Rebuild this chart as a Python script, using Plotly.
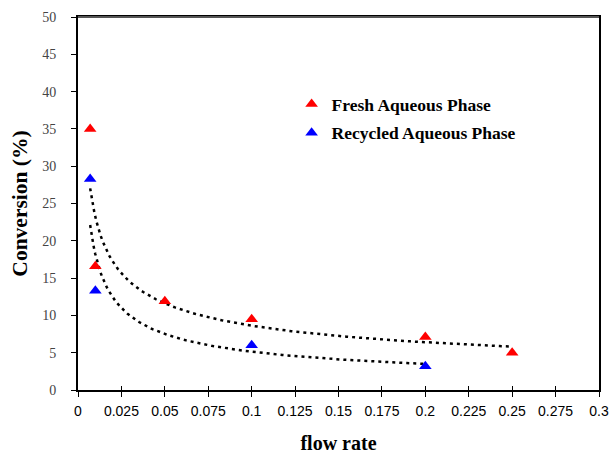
import numpy as np
import plotly.graph_objects as go

fresh_x = [0.007, 0.01, 0.05, 0.1, 0.2, 0.25]
fresh_y = [35.0, 16.6, 11.9, 9.5, 7.1, 5.0]
recycled_x = [0.007, 0.01, 0.1, 0.2]
recycled_y = [28.3, 13.3, 6.0, 3.2]

x_ticks = [0, 0.025, 0.05, 0.075, 0.1, 0.125, 0.15, 0.175, 0.2, 0.225, 0.25, 0.275, 0.3]
x_tick_text = ["0", "0.025", "0.05", "0.075", "0.1", "0.125", "0.15", "0.175", "0.2", "0.225", "0.25", "0.275", "0.3"]
y_ticks = [0, 5, 10, 15, 20, 25, 30, 35, 40, 45, 50]


def power_fit(xs, ys):
    lx, ly = np.log(xs), np.log(ys)
    b, ln_a = np.polyfit(lx, ly, 1)
    xx = np.linspace(min(xs), max(xs), 200)
    return xx, np.exp(ln_a) * xx ** b


fig = go.Figure()

for xs, ys in [(fresh_x, fresh_y), (recycled_x, recycled_y)]:
    tx, ty = power_fit(xs, ys)
    fig.add_trace(go.Scatter(x=tx, y=ty, mode="lines", showlegend=False,
                             line=dict(color="black", width=2.5, dash="3px,4px"),
                             hoverinfo="skip"))

fig.add_trace(go.Scatter(x=fresh_x, y=fresh_y, mode="markers", name="<b>Fresh Aqueous Phase</b>",
                         legendgroup="a",
                         marker=dict(symbol="triangle-up", size=11, color="#ff0000")))
fig.add_trace(go.Scatter(x=recycled_x, y=recycled_y, mode="markers", name="<b>Recycled Aqueous Phase</b>",
                         legendgroup="b",
                         marker=dict(symbol="triangle-up", size=11, color="#0000ff")))

# overlay x axis for the inside half of the crossing x ticks
fig.add_trace(go.Scatter(x=[None], y=[None], xaxis="x2", showlegend=False))

axis_common = dict(showgrid=False, zeroline=False, showline=True, linecolor="black",
                   linewidth=2, mirror=True, ticks="outside", ticklen=5, tickcolor="black",
                   tickwidth=1, automargin=False)

fig.update_layout(
    width=611, height=454,
    margin=dict(l=78, r=12, t=17, b=64),
    paper_bgcolor="white", plot_bgcolor="white",
    xaxis=dict(range=[0, 0.3], tickvals=x_ticks, ticktext=x_tick_text,
               tickfont=dict(family="Liberation Sans", size=14, color="black"),
               ticklabelstandoff=2,
               title=dict(text="<b>flow rate</b>", standoff=21,
                          font=dict(family="Liberation Serif", size=20, color="black")),
               **axis_common),
    yaxis=dict(range=[0, 50], tickvals=y_ticks,
               tickfont=dict(family="Liberation Serif", size=14, color="#444444"),
               ticklabelstandoff=12,
               title=dict(text="<b>Conversion (%)</b>", standoff=9,
                          font=dict(family="Liberation Serif", size=21.5, color="black")),
               **axis_common),
    xaxis2=dict(range=[0, 0.3], overlaying="x", tickvals=x_ticks, showticklabels=False,
                ticks="inside", ticklen=4, tickcolor="black", showgrid=False, zeroline=False,
                showline=False, automargin=False),
    legend=dict(x=0.41, y=0.815, xanchor="left", yanchor="top", bgcolor="rgba(0,0,0,0)",
                traceorder="grouped", tracegroupgap=3,
                font=dict(family="Liberation Serif", size=17.5, color="black"),
                itemwidth=30),
    showlegend=True,
    shapes=[dict(type="line", xref="paper", yref="paper", x0=0, x1=1, y0=1, y1=1,
                 line=dict(color="#555555", width=2), layer="above")],
)

fig.write_html("out.html", config={"displayModeBar": False},
               post_script="document.body.style.margin='0';document.body.style.overflow='hidden';")
